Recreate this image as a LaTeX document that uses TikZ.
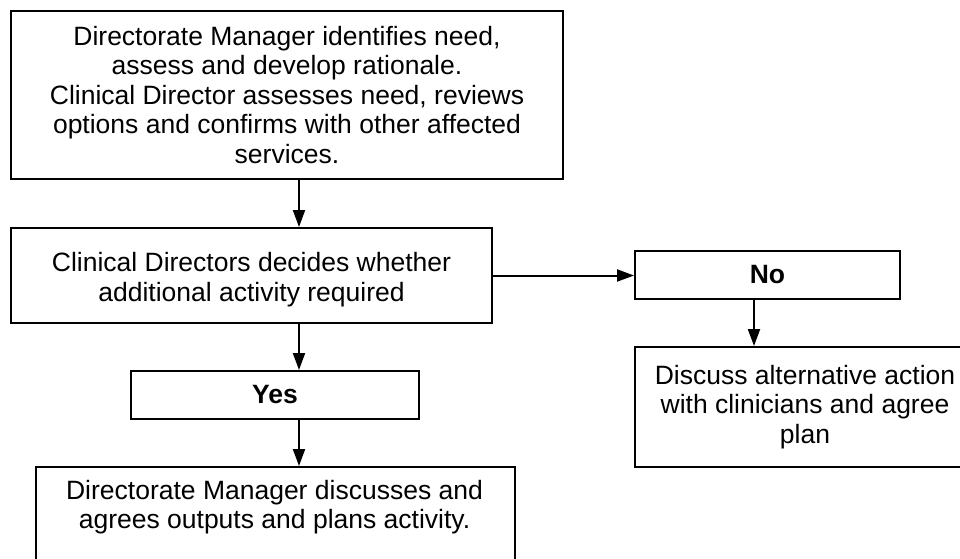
\documentclass[tikz,border=0pt]{standalone}
\usepackage{fontspec}
\setmainfont{Liberation Sans}
\usetikzlibrary{arrows.meta}
\begin{document}
\begin{tikzpicture}[x=1pt,y=-1pt,
  boxnode/.style={draw=black, line width=2pt, rectangle, inner sep=0pt, anchor=north west},
  txt/.style={align=center, font=\fontsize{26.5}{29.5}\selectfont, inner sep=0pt},
  arr/.style={draw=black, line width=2pt, -{Triangle[length=17pt,width=12pt]}}]
\useasboundingbox (0,0) rectangle (960,558);
% boxes
\node[boxnode, minimum width=552pt, minimum height=168pt] (b1) at (10,10) {};
\node[boxnode, minimum width=481pt, minimum height=95pt] (b2) at (10,227) {};
\node[boxnode, minimum width=288pt, minimum height=48pt] (yes) at (130,370) {};
\node[boxnode, minimum width=479pt, minimum height=100pt] (b4) at (35,466) {};
\node[boxnode, minimum width=265pt, minimum height=48pt] (no) at (634,250) {};
\node[boxnode, minimum width=340pt, minimum height=120pt] (b5) at (634,346) {};
% texts
\node[txt] (t1) at (b1.center) {Directorate Manager identifies need,\\assess and develop rationale.\\Clinical Director assesses need, reviews\\options and confirms with other affected\\services.};
\node[txt] (t2) at ([yshift=-4pt]b2.center) {Clinical Directors decides whether\\additional activity required};
\node[txt, font=\fontsize{26.5}{29.5}\selectfont\bfseries] (t3) at (yes.center) {Yes};
\node[txt] (t4) at (274.5,507) {Directorate Manager discusses and\\agrees outputs and plans activity.};
\node[txt, font=\fontsize{26.5}{29.5}\selectfont\bfseries] (t5) at (no.center) {No};
\node[txt] (t6) at (b5.center) {Discuss alternative action\\with clinicians and agree\\plan};
% connector guides
\coordinate (ax) at (299,0);
\coordinate (bx) at (754,0);
% connectors
\draw[arr] (b1.south -| ax) -- (b2.north -| ax);
\draw[arr] (b2.south -| ax) -- (yes.north -| ax);
\draw[arr] (yes.south -| ax) -- (b4.north -| ax);
\draw[arr] (b2.east) -- (b2.east -| no.west);
\draw[arr] (no.south -| bx) -- (b5.north -| bx);
\end{tikzpicture}
\end{document}
